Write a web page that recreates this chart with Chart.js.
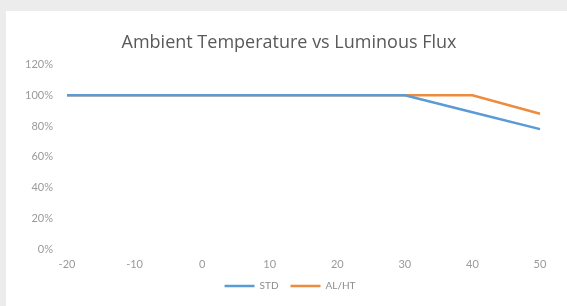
<!DOCTYPE html>
<html>
<head>
<meta charset="utf-8">
<script src="https://cdn.jsdelivr.net/npm/chart.js@4/dist/chart.umd.min.js"></script>
<style>
  html, body { margin: 0; padding: 0; }
  body { width: 567px; height: 306px; background: #ececec; position: relative; overflow: hidden; }
  #card { position: absolute; left: 6px; top: 11px; right: 0; bottom: 0; background: #fff; }
  #fluxChart { position: absolute; left: 0; top: 0; }
</style>
</head>
<body>
<div id="card"></div>
<canvas id="fluxChart" width="567" height="306"></canvas>
<script>
const temps = ['-20', '-10', '0', '10', '20', '30', '40', '50'];
const stdFlux = [100, 100, 100, 100, 100, 100, 89, 78];
const alhtFlux = [100, 100, 100, 100, 100, 100, 100, 88];
const yTicks = [0, 20, 40, 60, 80, 100, 120];

// nudge title and legend so they center like the Excel original
const centerBlocks = {
  id: 'centerBlocks',
  afterLayout(chart) {
    if (chart.titleBlock) chart.titleBlock.left += 38;
    if (chart.legend) chart.legend.left += 40;
  }
};

document.addEventListener('DOMContentLoaded', function () {
  const ctx = document.getElementById('fluxChart');
  new Chart(ctx, {
    type: 'line',
    data: {
      labels: temps,
      datasets: [{
        label: 'STD',
        data: stdFlux,
        borderColor: '#5b9bd5',
        backgroundColor: '#5b9bd5',
        borderWidth: 2.5,
        pointRadius: 0,
        tension: 0
      }, {
        label: 'AL/HT',
        data: alhtFlux,
        borderColor: '#ed8b3e',
        backgroundColor: '#ed8b3e',
        borderWidth: 2.5,
        pointRadius: 0,
        tension: 0
      }]
    },
    options: {
      responsive: false,
      animation: false,
      layout: { padding: { top: 32, right: 27, left: 0, bottom: 5 } },
      plugins: {
        title: {
          display: true,
          text: 'Ambient Temperature vs Luminous Flux',
          color: '#595959',
          font: { family: 'Open Sans', size: 18, weight: 'normal' },
          padding: { top: 0, bottom: 11 }
        },
        legend: {
          position: 'bottom',
          labels: {
            usePointStyle: true,
            pointStyle: 'line',
            pointStyleWidth: 30,
            color: '#8c8c8c',
            font: { family: 'Lato', size: 10 },
            padding: 12
          }
        },
        tooltip: { enabled: false }
      },
      scales: {
        x: {
          offset: false,
          grid: { display: false, drawTicks: false },
          border: { display: false },
          ticks: { color: '#9a9a9a', font: { family: 'Lato', size: 11 }, padding: 9, maxRotation: 0 },
          afterFit: function (scale) { scale.height = 20; }
        },
        y: {
          min: 0,
          max: 120,
          afterBuildTicks: function (scale) { scale.ticks = yTicks.map(v => ({ value: v })); },
          grid: { display: false, drawTicks: false },
          border: { display: false },
          ticks: {
            color: '#9a9a9a',
            font: { family: 'Lato', size: 11 },
            padding: 14,
            callback: v => v + '%'
          },
          afterFit: function (scale) { scale.width = 67; }
        }
      }
    },
    plugins: [centerBlocks]
  });
});
</script>
</body>
</html>
